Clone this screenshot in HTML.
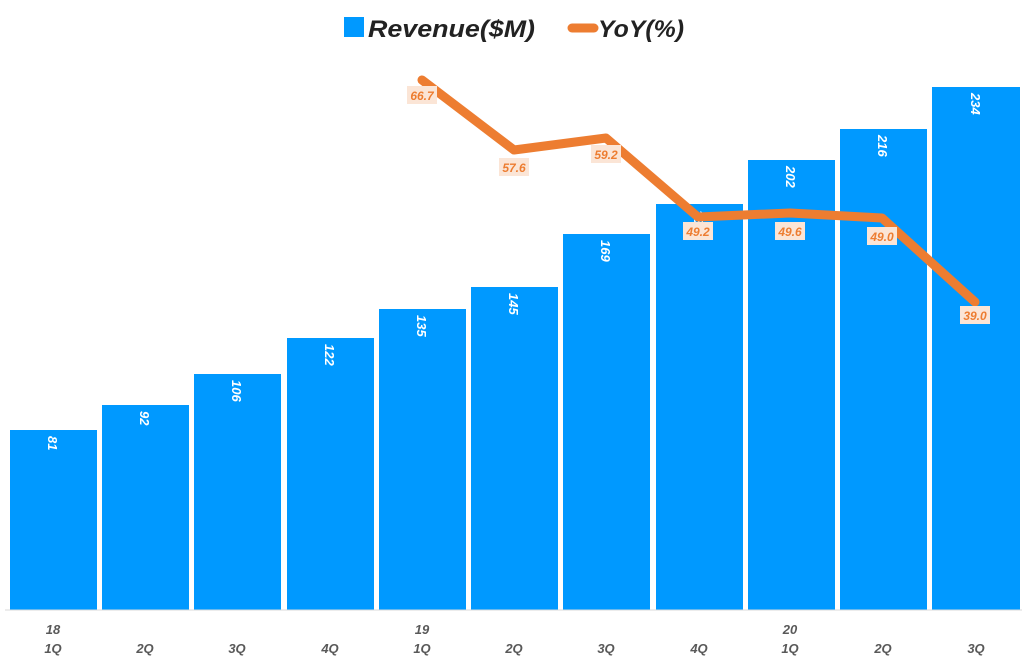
<!DOCTYPE html>
<html><head><meta charset="utf-8"><style>
body{margin:0;background:#fff}
svg{display:block;font-family:"Liberation Sans",sans-serif}
</style></head><body>
<svg width="1024" height="663" viewBox="0 0 1024 663">
<rect x="344" y="17" width="20" height="20" fill="#0099FF"/>
<text x="368" y="37" font-size="24" font-weight="bold" font-style="italic" fill="#222" textLength="167" lengthAdjust="spacingAndGlyphs">Revenue($M)</text>
<line x1="572" y1="28" x2="594" y2="28" stroke="#ED7D31" stroke-width="9" stroke-linecap="round"/>
<text x="598" y="37" font-size="24" font-weight="bold" font-style="italic" fill="#222" textLength="86" lengthAdjust="spacingAndGlyphs">YoY(%)</text>
<g fill="#0099FF">
<rect x="10" y="430" width="87" height="180"/>
<rect x="102" y="405" width="87" height="205"/>
<rect x="194" y="374" width="87" height="236"/>
<rect x="287" y="338" width="87" height="272"/>
<rect x="379" y="309" width="87" height="301"/>
<rect x="471" y="287" width="87" height="323"/>
<rect x="563" y="234" width="87" height="376"/>
<rect x="656" y="204" width="87" height="406"/>
<rect x="748" y="160" width="87" height="450"/>
<rect x="840" y="129" width="87" height="481"/>
<rect x="932" y="87" width="88" height="523"/>
</g>
<line x1="5" y1="610" x2="1022" y2="610" stroke="#d9d9d9" stroke-width="1"/>
<g fill="#fff" font-size="13" font-weight="bold" font-style="italic">
<text transform="translate(48,436) rotate(90)">81</text>
<text transform="translate(140,411) rotate(90)">92</text>
<text transform="translate(232,380) rotate(90)">106</text>
<text transform="translate(325,344) rotate(90)">122</text>
<text transform="translate(417,315) rotate(90)">135</text>
<text transform="translate(509,293) rotate(90)">145</text>
<text transform="translate(601,240) rotate(90)">169</text>
<text transform="translate(694,210) rotate(90)">183</text>
<text transform="translate(786,166) rotate(90)">202</text>
<text transform="translate(878,135) rotate(90)">216</text>
<text transform="translate(971,93) rotate(90)">234</text>
</g>
<polyline points="422,80 514,150 606,138 698,217 790,213 882,218 975,302" fill="none" stroke="#ED7D31" stroke-width="9" stroke-linecap="round" stroke-linejoin="round"/>
<g font-size="12" font-weight="bold" font-style="italic" fill="#ED7D31" text-anchor="middle">
<rect x="407" y="86" width="30" height="18" fill="#FBE5D6"/><text x="422" y="100">66.7</text>
<rect x="499" y="158" width="30" height="18" fill="#FBE5D6"/><text x="514" y="172">57.6</text>
<rect x="591" y="145" width="30" height="18" fill="#FBE5D6"/><text x="606" y="159">59.2</text>
<rect x="683" y="222" width="30" height="18" fill="#FBE5D6"/><text x="698" y="236">49.2</text>
<rect x="775" y="222" width="30" height="18" fill="#FBE5D6"/><text x="790" y="236">49.6</text>
<rect x="867" y="227" width="30" height="18" fill="#FBE5D6"/><text x="882" y="241">49.0</text>
<rect x="960" y="306" width="30" height="18" fill="#FBE5D6"/><text x="975" y="320">39.0</text>
</g>
<g font-size="13" font-weight="bold" font-style="italic" fill="#595959" text-anchor="middle">
<text x="53" y="634">18</text><text x="422" y="634">19</text><text x="790" y="634">20</text>
<text x="53" y="653">1Q</text><text x="145" y="653">2Q</text><text x="237" y="653">3Q</text><text x="330" y="653">4Q</text>
<text x="422" y="653">1Q</text><text x="514" y="653">2Q</text><text x="606" y="653">3Q</text><text x="699" y="653">4Q</text>
<text x="790" y="653">1Q</text><text x="883" y="653">2Q</text><text x="976" y="653">3Q</text>
</g>
</svg>
</body></html>
